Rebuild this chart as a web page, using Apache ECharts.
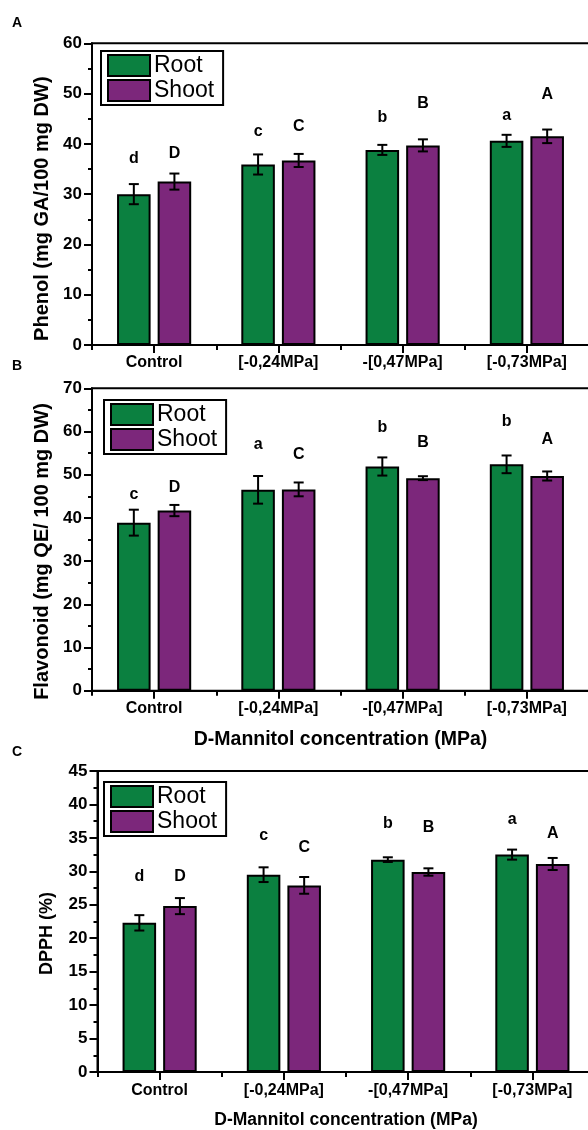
<!DOCTYPE html>
<html>
<head>
<meta charset="utf-8">
<script src="https://cdn.jsdelivr.net/npm/echarts@6/dist/echarts.min.js"></script>
<style>
html,body{margin:0;padding:0;overflow:hidden;background:#fff;}
#chart{width:600px;height:1130px;}
</style>
</head>
<body>
<div id="chart"></div>
<script>
// ---- data ----
const categories = ['Control', '[-0,24MPa]', '-[0,47MPa]', '[-0,73MPa]'];

const phenolRoot = [30.0, 35.9, 38.8, 40.6];
const phenolRootErr = [2.0, 2.0, 1.0, 1.2];
const phenolShoot = [32.5, 36.7, 39.7, 41.5];
const phenolShootErr = [1.6, 1.3, 1.2, 1.35];
const phenolRootLetters = ['d', 'c', 'b', 'a'];
const phenolShootLetters = ['D', 'C', 'B', 'A'];
const phenolRootLetterY = [37.1, 42.5, 45.3, 45.7];
const phenolShootLetterY = [38.1, 43.4, 48.1, 49.7];

const flavRoot = [38.9, 46.5, 51.9, 52.4];
const flavRootErr = [3.0, 3.2, 2.1, 2.05];
const flavShoot = [41.7, 46.6, 49.2, 49.7];
const flavShootErr = [1.3, 1.6, 0.45, 1.05];
const flavRootLetters = ['c', 'a', 'b', 'b'];
const flavShootLetters = ['D', 'C', 'B', 'A'];
const flavRootLetterY = [45.3, 57.0, 60.9, 62.3];
const flavShootLetterY = [46.9, 54.7, 57.4, 58.2];

const dpphRoot = [22.3, 29.5, 31.75, 32.5];
const dpphRootErr = [1.15, 1.1, 0.35, 0.75];
const dpphShoot = [24.8, 27.9, 29.9, 31.1];
const dpphShootErr = [1.2, 1.25, 0.55, 0.9];
const dpphRootLetters = ['d', 'c', 'b', 'a'];
const dpphShootLetters = ['D', 'C', 'B', 'A'];
const dpphRootLetterY = [29.2, 35.4, 37.1, 37.7];
const dpphShootLetterY = [29.2, 33.5, 36.6, 35.6];

const yTicksA = {min: 0, max: 60, interval: 10};
const yTicksB = {min: 0, max: 70, interval: 10};
const yTicksC = {min: 0, max: 45, interval: 5};

// ---- styles ----
const GREEN = '#0b8040';
const PURPLE = '#7c277b';
const FONT = '"Liberation Sans", Arial, sans-serif';
const BAR_FRAC = 0.27;
const GAP_FRAC = 0.21;

const panels = [
  {grid: {left: 92, top: 43.3, width: 497, height: 301.7}, y: yTicksA,
   yName: 'Phenol (mg GA/100 mg DW)', yNameSize: 20, yNameGap: 40, yNamePad: 29,
   xName: '', xNameSize: 18, xNameGap: 38, labelMargin: 10,
   legend: {left: 101, top: 51},
   root: phenolRoot, rootErr: phenolRootErr, shoot: phenolShoot, shootErr: phenolShootErr,
   rl: phenolRootLetters, sl: phenolShootLetters, rly: phenolRootLetterY, sly: phenolShootLetterY,
   title: {text: 'A', left: 12, top: 16}},
  {grid: {left: 92, top: 388.3, width: 497, height: 302.4}, y: yTicksB,
   yName: 'Flavonoid (mg QE/ 100 mg DW)', yNameSize: 20, yNameGap: 40, yNamePad: 24,
   xName: 'D-Mannitol concentration (MPa)', xNameSize: 19.5, xNameGap: 39, labelMargin: 10,
   legend: {left: 104, top: 400},
   root: flavRoot, rootErr: flavRootErr, shoot: flavShoot, shootErr: flavShootErr,
   rl: flavRootLetters, sl: flavShootLetters, rly: flavRootLetterY, sly: flavShootLetterY,
   title: {text: 'B', left: 12, top: 359}},
  {grid: {left: 97.5, top: 771, width: 497, height: 302.3}, y: yTicksC,
   yName: 'DPPH (%)', yNameSize: 18, yNameGap: 41, yNamePad: 24,
   xName: 'D-Mannitol concentration (MPa)', xNameSize: 17.5, xNameGap: 39, labelMargin: 11,
   legend: {left: 104, top: 782},
   root: dpphRoot, rootErr: dpphRootErr, shoot: dpphShoot, shootErr: dpphShootErr,
   rl: dpphRootLetters, sl: dpphShootLetters, rly: dpphRootLetterY, sly: dpphShootLetterY,
   title: {text: 'C', left: 12, top: 745}}
];

function errRender(vals, errs, letters, letterY, sign) {
  return function (params, api) {
    const i = params.dataIndex;
    const band = api.size([1, 0])[0];
    const off = sign * band * BAR_FRAC * (1 + GAP_FRAC) / 2;
    const x = api.coord([i, vals[i]])[0] + off;
    const yT = api.coord([i, vals[i] + errs[i]])[1];
    const yB = api.coord([i, vals[i] - errs[i]])[1];
    const yL = api.coord([i, letterY[i]])[1];
    const cap = 5;
    const ls = {stroke: '#000', lineWidth: 2};
    return {
      type: 'group',
      children: [
        {type: 'line', shape: {x1: x, y1: yT, x2: x, y2: yB}, style: ls},
        {type: 'line', shape: {x1: x - cap, y1: yT, x2: x + cap, y2: yT}, style: ls},
        {type: 'line', shape: {x1: x - cap, y1: yB, x2: x + cap, y2: yB}, style: ls},
        {type: 'text', style: {text: letters[i], x: x, y: yL, align: 'center', verticalAlign: 'middle',
          fill: '#000', fontSize: 16, fontWeight: 'bold', fontFamily: FONT}}
      ]
    };
  };
}

const option = {
  animation: false,
  backgroundColor: '#fff',
  title: [], grid: [], xAxis: [], yAxis: [], legend: [], series: []
};

panels.forEach((p, g) => {
  option.title.push({text: p.title.text, left: p.title.left, top: p.title.top, padding: 0,
    textStyle: {fontSize: 14, fontWeight: 'bold', fontFamily: FONT, color: '#000'}});
  option.grid.push(Object.assign({show: true, borderColor: '#000', borderWidth: 2, backgroundColor: 'transparent'}, p.grid));
  option.xAxis.push({
    type: 'category', gridIndex: g, data: categories, position: 'bottom',
    axisLine: {show: true, lineStyle: {color: '#000', width: 2}},
    axisTick: {show: true, alignWithLabel: true, length: 8, lineStyle: {color: '#000', width: 2}},
    axisLabel: {color: '#000', fontSize: 16, fontWeight: 'bold', fontFamily: FONT, margin: p.labelMargin, interval: 0},
    name: p.xName, nameLocation: 'middle', nameGap: p.xNameGap,
    nameTextStyle: {color: '#000', fontSize: p.xNameSize, fontWeight: 'bold', fontFamily: FONT},
    splitLine: {show: false}
  });
  option.xAxis.push({
    type: 'category', gridIndex: g, data: categories, position: 'bottom',
    axisLine: {show: false},
    axisTick: {show: true, alignWithLabel: false, length: 5, lineStyle: {color: '#000', width: 2}},
    axisLabel: {show: false}, splitLine: {show: false}
  });
  option.yAxis.push({
    type: 'value', gridIndex: g, min: p.y.min, max: p.y.max, interval: p.y.interval,
    axisLine: {show: true, lineStyle: {color: '#000', width: 2}},
    axisTick: {show: true, length: 8, lineStyle: {color: '#000', width: 2}},
    minorTick: {show: true, splitNumber: 2, length: 4, lineStyle: {color: '#000', width: 2}},
    axisLabel: {color: '#000', fontSize: 17, fontWeight: 'bold', fontFamily: FONT, margin: 10},
    splitLine: {show: false},
    name: p.yName, nameLocation: 'middle', nameRotate: 90, nameGap: p.yNameGap,
    nameTextStyle: {color: '#000', fontSize: p.yNameSize, fontWeight: 'bold', fontFamily: FONT,
      padding: [0, p.yNamePad, 0, 0]}
  });
  option.legend.push({
    left: p.legend.left, top: p.legend.top, orient: 'vertical',
    data: ['Root', 'Shoot'], itemWidth: 42, itemHeight: 21, itemGap: 2,
    padding: [3, 9, 3, 6], borderColor: '#000', borderWidth: 2, backgroundColor: '#fff',
    selectedMode: false, icon: 'rect',
    itemStyle: {borderColor: '#000', borderWidth: 2},
    textStyle: {color: '#000', fontSize: 23, fontFamily: FONT, lineHeight: 22, padding: [0, 0, 0, -1]}
  });
  const xi = g * 2;
  option.series.push({
    name: 'Root', type: 'bar', xAxisIndex: xi, yAxisIndex: g, data: p.root,
    barWidth: (BAR_FRAC * 100) + '%', barGap: (GAP_FRAC * 100) + '%',
    itemStyle: {color: GREEN, borderColor: '#000', borderWidth: 2}
  });
  option.series.push({
    name: 'Shoot', type: 'bar', xAxisIndex: xi, yAxisIndex: g, data: p.shoot,
    barWidth: (BAR_FRAC * 100) + '%', barGap: (GAP_FRAC * 100) + '%',
    itemStyle: {color: PURPLE, borderColor: '#000', borderWidth: 2}
  });
  option.series.push({
    type: 'custom', xAxisIndex: xi, yAxisIndex: g, z: 5,
    data: p.root.map((v, i) => [i, v]), encode: {x: 0, y: 1},
    renderItem: errRender(p.root, p.rootErr, p.rl, p.rly, -1)
  });
  option.series.push({
    type: 'custom', xAxisIndex: xi, yAxisIndex: g, z: 5,
    data: p.shoot.map((v, i) => [i, v]), encode: {x: 0, y: 1},
    renderItem: errRender(p.shoot, p.shootErr, p.sl, p.sly, 1)
  });
});

const chart = echarts.init(document.getElementById('chart'), null, {renderer: 'canvas'});
chart.setOption(option);
</script>
</body>
</html>
